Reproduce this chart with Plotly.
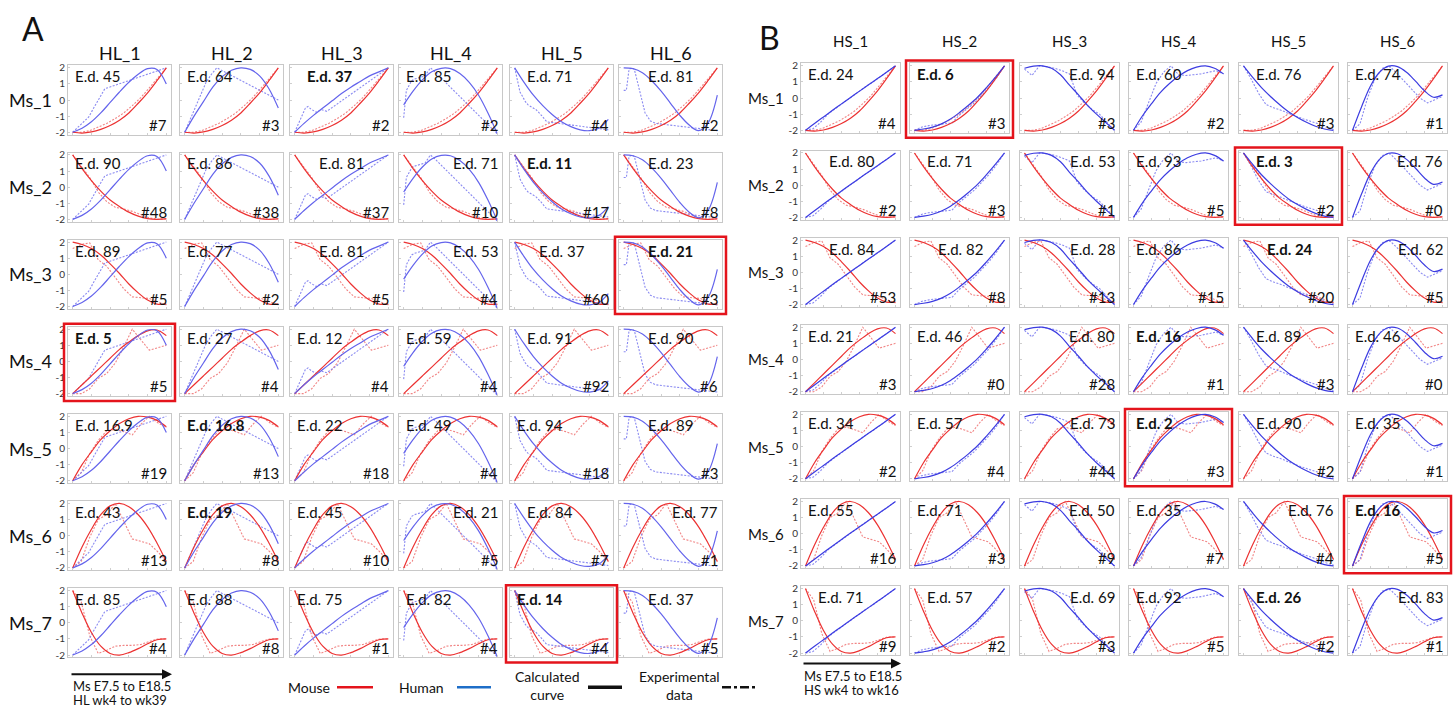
import plotly.graph_objects as go

W, H = 1454, 708

# ---------------- data ----------------
MS_NAMES = ["Ms_1", "Ms_2", "Ms_3", "Ms_4", "Ms_5", "Ms_6", "Ms_7"]
HL_NAMES = ["HL_1", "HL_2", "HL_3", "HL_4", "HL_5", "HL_6"]
HS_NAMES = ["HS_1", "HS_2", "HS_3", "HS_4", "HS_5", "HS_6"]

# sampling times of experimental data
MS_DAYS = [7.5, 8.5, 9.5, 10.5, 11.5, 12.5, 13.5, 14.5, 15.5, 16.5, 17.5, 18.5]
HL_WEEKS = [4, 5, 6, 7, 8, 9, 10, 12, 14, 16, 39]
HS_WEEKS = [4, 5, 6, 7, 8, 9, 10, 11, 12, 13, 14, 15, 16]
# normalized time grid of calculated curves
FIT_T = [0.0, 0.1, 0.2, 0.3, 0.4, 0.5, 0.6, 0.7, 0.8, 0.9, 1.0]

MS_FIT = [
    [-2.0, -2.05, -1.98, -1.82, -1.58, -1.25, -0.8, -0.2, 0.45, 1.2, 2.0],
    [2.0, 1.15, 0.4, -0.25, -0.8, -1.2, -1.55, -1.8, -1.95, -2.0, -1.97],
    [2.0, 1.85, 1.6, 1.2, 0.65, 0.05, -0.6, -1.15, -1.6, -1.85, -1.85],
    [-2.0, -1.45, -0.9, -0.35, 0.2, 0.75, 1.2, 1.6, 1.9, 1.95, 1.6],
    [-2.0, -1.0, -0.2, 0.55, 1.1, 1.55, 1.85, 2.0, 1.95, 1.75, 1.35],
    [-2.0, -0.7, 0.4, 1.3, 1.85, 2.0, 1.8, 1.3, 0.55, -0.45, -1.6],
    [2.0, 0.6, -0.6, -1.45, -1.9, -2.0, -1.85, -1.6, -1.3, -1.05, -1.0],
]
MS_EXP = [
    [-2.0, -2.0, -1.9, -1.7, -1.45, -1.15, -0.8, -0.35, 0.15, 0.75, 1.4, 2.0],
    [2.0, 1.3, 0.6, -0.3, -0.9, -1.25, -1.35, -1.5, -1.7, -1.9, -2.0, -1.95],
    [1.6, 1.85, 1.95, 0.9, 0.5, -0.2, -0.9, -1.4, -1.45, -1.5, -1.7, -1.9],
    [-2.0, -2.0, -1.7, -1.05, -0.75, -0.1, 0.9, 2.0, 1.35, 0.7, 0.85, 1.0],
    [-2.0, -1.5, -0.3, 0.5, 1.1, 1.2, 1.05, 0.85, 1.5, 2.0, 1.6, 1.3],
    [-2.0, -1.6, -0.1, 1.0, 1.3, 2.0, 0.9, -0.2, -0.35, -0.5, -1.0, -1.6],
    [2.0, 1.3, -0.8, -1.9, -1.7, -1.45, -1.4, -1.4, -1.35, -1.15, -1.0, -1.0],
]
HL_FIT = [
    [-2.0, -1.75, -1.35, -0.8, -0.15, 0.5, 1.1, 1.6, 1.95, 1.9, 1.0],
    [-2.0, -1.0, -0.1, 0.8, 1.45, 1.85, 2.0, 1.9, 1.5, 0.7, -0.5],
    [-2.0, -1.45, -0.95, -0.5, -0.05, 0.4, 0.8, 1.15, 1.5, 1.75, 2.0],
    [-0.3, 0.55, 1.25, 1.75, 1.97, 1.95, 1.65, 1.1, 0.3, -0.8, -2.1],
    [2.0, 1.1, 0.3, -0.35, -0.9, -1.35, -1.65, -1.85, -1.9, -1.75, -1.2],
    [2.0, 1.95, 1.7, 1.2, 0.55, -0.2, -0.95, -1.55, -1.9, -1.45, 0.3],
]
HL_EXP = [
    [-2.0, -1.85, -1.7, -1.55, -1.4, -1.2, -1.05, -0.45, 0.1, 0.7, 2.0],
    [-2.0, -1.6, -1.25, -0.85, -0.5, -0.1, 0.3, 1.1, 1.6, 2.0, 0.0],
    [-2.0, -1.6, -1.2, -0.8, -0.5, -0.4, -0.55, -0.75, -0.6, -0.7, 2.0],
    [-1.1, 0.6, 0.9, 1.2, 1.3, 1.35, 1.4, 1.5, 2.0, 1.7, -2.1],
    [2.0, 1.2, 0.5, 0.2, -0.1, -0.3, -0.4, -0.6, -0.95, -1.35, -1.85],
    [0.6, 0.6, 1.9, 2.0, 1.9, 1.2, 0.4, -0.8, -1.3, -1.45, -1.9],
]
HS_FIT = [
    [-2.0, -1.58, -1.17, -0.76, -0.36, 0.04, 0.43, 0.82, 1.21, 1.6, 2.0],
    [-2.0, -1.92, -1.8, -1.6, -1.3, -0.9, -0.45, 0.05, 0.65, 1.3, 2.0],
    [1.85, 1.98, 2.0, 1.85, 1.45, 0.8, 0.2, -0.45, -1.0, -1.5, -2.0],
    [-2.0, -1.1, -0.35, 0.35, 0.9, 1.35, 1.7, 1.92, 2.0, 1.85, 1.5],
    [2.0, 1.3, 0.65, 0.1, -0.4, -0.85, -1.2, -1.5, -1.75, -1.92, -2.0],
    [-2.0, -0.55, 0.75, 1.6, 1.98, 1.95, 1.6, 1.05, 0.45, 0.05, 0.2],
]
HS_EXP = [
    [-2.0, -1.9, -1.5, -1.0, -0.65, -0.3, 0.0, 0.35, 0.7, 1.0, 1.35, 1.65, 2.0],
    [-2.0, -1.8, -1.7, -1.65, -1.6, -1.55, -1.05, -0.7, -0.3, 0.2, 0.7, 1.3, 2.0],
    [1.8, 1.4, 2.0, 1.95, 1.85, 1.7, 1.5, 0.2, -0.3, -0.7, -1.0, -1.5, -2.0],
    [-2.0, -1.5, -0.3, 0.9, 1.6, 2.0, 1.45, 1.4, 1.45, 1.5, 1.6, 1.7, 1.5],
    [2.0, 1.2, 0.3, -0.4, -0.6, -0.75, -0.95, -1.15, -1.3, -1.45, -1.6, -1.8, -1.95],
    [-2.0, -1.6, 0.0, 1.2, 1.85, 1.95, 1.5, 1.0, 0.5, 0.0, -0.3, -0.1, 0.1],
]

A_ED = [
    ["45", "64", "37", "85", "71", "81"],
    ["90", "86", "81", "71", "11", "23"],
    ["89", "77", "81", "53", "37", "21"],
    ["5", "27", "12", "59", "91", "90"],
    ["16.9", "16.8", "22", "49", "94", "89"],
    ["43", "19", "45", "21", "84", "77"],
    ["85", "88", "75", "82", "14", "37"],
]
A_N = [
    [7, 3, 2, 2, 4, 2],
    [48, 38, 37, 10, 17, 8],
    [5, 2, 5, 4, 60, 3],
    [5, 4, 4, 4, 92, 6],
    [19, 13, 18, 4, 18, 3],
    [13, 8, 10, 5, 7, 1],
    [4, 8, 1, 4, 4, 5],
]
A_BEST = [2, 4, 5, 0, 1, 1, 4]          # bold column per mouse row
A_BOXED = [(2, 5), (3, 0), (6, 4)]

B_ED = [
    ["24", "6", "94", "60", "76", "74"],
    ["80", "71", "53", "93", "3", "76"],
    ["84", "82", "28", "86", "24", "62"],
    ["21", "46", "80", "16", "89", "46"],
    ["34", "57", "73", "2", "90", "35"],
    ["55", "71", "50", "35", "76", "16"],
    ["71", "57", "69", "92", "26", "83"],
]
B_N = [
    [4, 3, 3, 2, 3, 1],
    [2, 3, 1, 5, 2, 0],
    [53, 8, 13, 15, 20, 5],
    [3, 0, 28, 1, 3, 0],
    [2, 4, 44, 3, 2, 1],
    [16, 3, 9, 7, 4, 5],
    [9, 2, 3, 5, 2, 1],
]
B_BEST = [1, 4, 4, 3, 3, 5, 4]
B_BOXED = [(0, 1), (1, 4), (4, 3), (5, 5)]

# ---------------- layout (label placement) ----------------
A_ED_POS = ["LLMLMC", "LLNRMN", "LLNRNN", "LLLLMN", "LLLLLN", "LLLRMR", "LLLLLN"]
B_ED_POS = ["LLRLML", "NMRLMR", "NNRLNR", "LLRLML", "LLRLML", "LLRLRL", "MMRLMR"]
POS_FRAC = {"L": 0.05, "M": 0.15, "N": 0.26}

FONT = "Lato, 'Open Sans', Arial, sans-serif"
RED = "rgb(236,50,50)"
RED_EXP = "rgba(240,120,120,0.9)"
BLUE_A = "rgb(100,100,236)"
BLUE_B = "rgb(60,60,225)"
BLUE_EXP = "rgba(125,125,240,0.9)"
DOTS = "2px,1.5px"


def norm(ts):
    t0, t1 = ts[0], ts[-1]
    return [(t - t0) / (t1 - t0) for t in ts]


MS_X = norm(MS_DAYS)
HL_X = norm(HL_WEEKS)
HS_X = norm(HS_WEEKS)

fig = go.Figure()
layout = {}
annotations = []
shapes = []


def add_text(x, y, s, size, xanchor="center", color="#111"):
    annotations.append(dict(x=x / W, y=1 - y / H, xref="paper", yref="paper", text=s,
                            showarrow=False, xanchor=xanchor, yanchor="middle",
                            font=dict(size=size, color=color, family=FONT)))


def panel(idx, left, top, w, h, ms, hfit, hexp, hx, blue, ed, n, bold, pos, ylabels):
    s = "" if idx == 1 else str(idx)
    xa, ya = "x" + s, "y" + s
    traces = [
        (MS_X, MS_EXP[ms], RED_EXP, DOTS, 1.1, "linear"),
        (hx, hexp, BLUE_EXP, DOTS, 1.1, "linear"),
        (FIT_T, MS_FIT[ms], RED, "solid", 1.2, "spline"),
        (FIT_T, hfit, blue, "solid", 1.2, "spline"),
    ]
    for xs, ys, col, dash, lw, shp in traces:
        fig.add_trace(go.Scatter(x=xs, y=ys, mode="lines", xaxis=xa, yaxis=ya,
                                 line=dict(color=col, dash=dash, width=lw, shape=shp, smoothing=1.0),
                                 showlegend=False, hoverinfo="skip"))
    layout["xaxis" + s] = dict(domain=[left / W, (left + w) / W], anchor=ya, range=[-0.05, 1.05],
                               showgrid=False, zeroline=False, showline=True, mirror=True,
                               linecolor="#c8c8c8", linewidth=1, ticks="inside", ticklen=2,
                               tickcolor="#cfcfcf", tickvals=[0, 0.2, 0.4, 0.6, 0.8, 1.0],
                               showticklabels=False, fixedrange=True)
    layout["yaxis" + s] = dict(domain=[1 - (top + h) / H, 1 - top / H], anchor=xa, range=[-2.15, 2.15],
                               showgrid=False, zeroline=False, showline=True, mirror=True,
                               linecolor="#c8c8c8", linewidth=1, ticks="inside", ticklen=2,
                               tickcolor="#cfcfcf", tickvals=[-2, -1, 0, 1, 2],
                               ticktext=["-2", "-1", "0", "1", "2"], showticklabels=ylabels,
                               tickfont=dict(size=10, color="#333", family=FONT), fixedrange=True)
    label = "E.d. " + ed
    if bold:
        label = "<b>" + label + "</b>"
    ty = top + 11
    if pos == "C":
        add_text(left + w / 2, ty, label, 15, "center")
    elif pos == "R":
        add_text(left + w - 2, ty, label, 15, "right")
    else:
        add_text(left + POS_FRAC[pos] * w, ty, label, 15, "left")
    add_text(left + w - 2, top + h - 10, "#" + str(n), 15, "right")


idx = 1
# ---- panel A ----
A_LEFT = [68, 180, 290, 399, 510, 619]
A_W, A_H = 103, 70
for r in range(7):
    top = 62 + 88 * r
    for c in range(6):
        panel(idx, A_LEFT[c], top, A_W, A_H, r, HL_FIT[c], HL_EXP[c], HL_X, BLUE_A,
              A_ED[r][c], A_N[r][c], A_BEST[r] == c, A_ED_POS[r][c], c == 0)
        idx += 1
    add_text(30, top + A_H / 2, MS_NAMES[r], 18)
for c in range(6):
    add_text(A_LEFT[c] + A_W / 2, 49, HL_NAMES[c], 18)
for r, c in A_BOXED:
    top = 62 + 88 * r
    shapes.append(dict(type="rect", xref="paper", yref="paper", x0=(A_LEFT[c] - 4) / W,
                       x1=(A_LEFT[c] + A_W + 4) / W, y0=1 - (top + A_H + 5) / H, y1=1 - (top - 3) / H,
                       line=dict(color="rgb(228,20,28)", width=2.5)))

# ---- panel B ----
B_LEFT = [801, 910, 1020, 1129, 1239, 1348]
B_W, B_H = 99, 70
for r in range(7):
    top = 60 + 88 * r
    for c in range(6):
        panel(idx, B_LEFT[c], top, B_W, B_H, r, HS_FIT[c], HS_EXP[c], HS_X, BLUE_B,
              B_ED[r][c], B_N[r][c], B_BEST[r] == c, B_ED_POS[r][c], c == 0)
        idx += 1
    add_text(766, top + B_H / 2, MS_NAMES[r], 15)
for c in range(6):
    add_text(B_LEFT[c] + B_W / 2, 37, HS_NAMES[c], 15)
for r, c in B_BOXED:
    top = 60 + 88 * r
    shapes.append(dict(type="rect", xref="paper", yref="paper", x0=(B_LEFT[c] - 4) / W,
                       x1=(B_LEFT[c] + B_W + 4) / W, y0=1 - (top + B_H + 5) / H, y1=1 - (top - 3) / H,
                       line=dict(color="rgb(228,20,28)", width=2.5)))

# ---- panel letters ----
add_text(33, 25, "A", 32)
add_text(769, 34, "B", 32)

# ---- time arrows ----
for x0, x1, y in [(70, 172, 677), (802, 901, 666)]:
    annotations.append(dict(x=x1 / W, y=1 - y / H, ax=-(x1 - x0), ay=0, xref="paper", yref="paper",
                            axref="pixel", ayref="pixel", text="", showarrow=True, arrowhead=2,
                            arrowsize=1, arrowwidth=2, arrowcolor="#111"))
add_text(71, 689, "Ms E7.5 to E18.5", 13, "left")
add_text(71, 703, "HL wk4 to wk39", 13, "left")
add_text(802, 679, "Ms E7.5 to E18.5", 13, "left")
add_text(802, 693, "HS wk4 to wk16", 13, "left")

# ---- legend ----
add_text(309, 690, "Mouse", 14)
add_text(421, 690, "Human", 14)
add_text(547, 688, "Calculated<br>curve", 14)
add_text(679, 688, "Experimental<br>data", 14)
for x0, x1, col, wd, dash in [(337, 373, "rgb(228,20,28)", 2.5, "solid"),
                              (457, 491, "rgb(30,110,200)", 2.5, "solid"),
                              (588, 622, "#111", 3.5, "solid"),
                              (722, 757, "#111", 2.5, "dashdot")]:
    shapes.append(dict(type="line", xref="paper", yref="paper", x0=x0 / W, x1=x1 / W,
                       y0=1 - 690 / H, y1=1 - 690 / H, line=dict(color=col, width=wd, dash=dash)))

fig.update_layout(width=W, height=H, margin=dict(l=0, r=0, t=0, b=0), paper_bgcolor="white",
                  plot_bgcolor="white", showlegend=False, annotations=annotations, shapes=shapes,
                  font=dict(family=FONT), **layout)
fig.write_html("out.html", config={"displayModeBar": False},
               post_script="document.body.style.margin='0';document.body.style.overflow='hidden';")
